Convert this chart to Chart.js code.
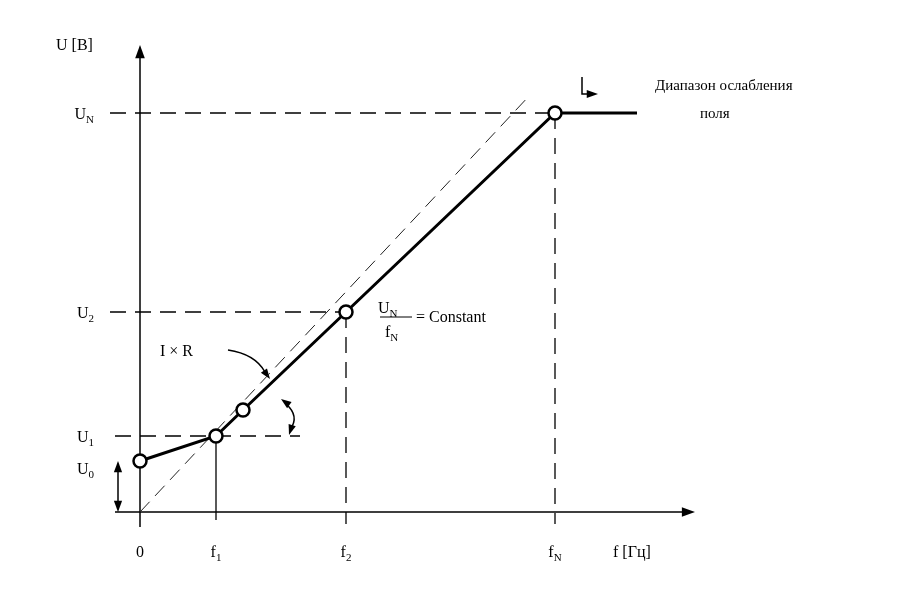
<!DOCTYPE html>
<html><head><meta charset="utf-8">
<script src="https://cdn.jsdelivr.net/npm/chart.js@4"></script>
<style>html,body{margin:0;background:#fff}#c{display:block}</style>
</head><body>
<canvas id="c" width="897" height="604"></canvas>
<script>
// characteristic points (f, U)
const freq = [0, 76, 103, 206, 415, 497];
const volt = [51, 76, 102, 200, 399, 399];
const markers = [true, true, true, true, true, false];
// I x R reference (dashed diagonal)
const diagF = [0, 390];
const diagU = [0, 417];
// tick labels [main, subscript, value]
const xTicks = [['0', '', 0], ['f', '1', 76], ['f', '2', 206], ['f', 'N', 415]];
const yTicks = [['U', '0', 51], ['U', '1', 76], ['U', '2', 200], ['U', 'N', 399]];

const F = '"Liberation Serif", "DejaVu Serif", serif';

function sub(ctx, x, y, main, s, align) {
  ctx.font = '16px ' + F;
  const w1 = ctx.measureText(main).width;
  ctx.font = '11px ' + F;
  const w2 = ctx.measureText(s).width;
  let x0 = align === 'right' ? x - w1 - w2 : align === 'center' ? x - (w1 + w2) / 2 : x;
  ctx.textAlign = 'left';
  ctx.textBaseline = 'alphabetic';
  ctx.font = '16px ' + F;
  ctx.fillText(main, x0, y);
  ctx.font = '11px ' + F;
  ctx.fillText(s, x0 + w1, y + 4);
}

function arrowHead(ctx, x, y, ang, len) {
  ctx.beginPath();
  ctx.moveTo(x, y);
  ctx.lineTo(x - len * Math.cos(ang - 0.35), y - len * Math.sin(ang - 0.35));
  ctx.lineTo(x - len * Math.cos(ang + 0.35), y - len * Math.sin(ang + 0.35));
  ctx.closePath();
  ctx.fill();
}

const deco = {
  id: 'deco',
  beforeDatasetsDraw(chart) {
    const ctx = chart.ctx, xs = chart.scales.x, ys = chart.scales.y;
    const X = v => xs.getPixelForValue(v), Y = v => ys.getPixelForValue(v);
    ctx.save();
    ctx.strokeStyle = '#000'; ctx.fillStyle = '#000';
    // axes
    ctx.lineWidth = 1.5;
    ctx.beginPath();
    ctx.moveTo(X(-25), Y(0)); ctx.lineTo(X(552), Y(0));
    ctx.moveTo(X(0), Y(-15)); ctx.lineTo(X(0), Y(462));
    ctx.stroke();
    arrowHead(ctx, X(555), Y(0), 0, 14);
    arrowHead(ctx, X(0), Y(467), -Math.PI / 2, 14);
    // guide lines
    ctx.lineWidth = 1.3;
    ctx.setLineDash([16, 9]);
    ctx.beginPath();
    ctx.moveTo(X(-30), Y(399)); ctx.lineTo(X(415), Y(399));
    ctx.moveTo(X(-30), Y(200)); ctx.lineTo(X(206), Y(200));
    ctx.moveTo(X(-25), Y(76)); ctx.lineTo(X(160), Y(76));
    ctx.moveTo(X(415), Y(399)); ctx.lineTo(X(415), Y(-12));
    ctx.moveTo(X(206), Y(200)); ctx.lineTo(X(206), Y(-12));
    ctx.stroke();
    ctx.setLineDash([]);
    ctx.beginPath();
    ctx.moveTo(X(76), Y(76)); ctx.lineTo(X(76), Y(-8));
    ctx.stroke();
    // U0 double arrow
    ctx.lineWidth = 1.5;
    ctx.beginPath();
    ctx.moveTo(X(-22), Y(42)); ctx.lineTo(X(-22), Y(9));
    ctx.stroke();
    arrowHead(ctx, X(-22), Y(51), -Math.PI / 2, 12);
    arrowHead(ctx, X(-22), Y(0), Math.PI / 2, 12);
    // angle arc
    ctx.beginPath();
    ctx.moveTo(X(146), Y(108));
    ctx.quadraticCurveTo(X(160), Y(96), X(150), Y(82));
    ctx.stroke();
    arrowHead(ctx, X(141), Y(113), Math.PI * 1.2, 11);
    arrowHead(ctx, X(149), Y(77), Math.PI * 0.6, 11);
    // I x R arrow
    ctx.beginPath();
    ctx.moveTo(X(88), Y(162));
    ctx.quadraticCurveTo(X(115), Y(158), X(125), Y(140));
    ctx.stroke();
    arrowHead(ctx, X(130), Y(133), Math.PI * 0.3, 11);
    // field weakening marker
    ctx.beginPath();
    ctx.moveTo(X(442), Y(435)); ctx.lineTo(X(442), Y(418)); ctx.lineTo(X(450), Y(418));
    ctx.stroke();
    arrowHead(ctx, X(458), Y(418), 0, 12);
    // tick labels
    ctx.fillStyle = '#000';
    xTicks.forEach(t => sub(ctx, X(t[2]), Y(0) + 45, t[0], t[1], 'center'));
    yTicks.forEach(t => sub(ctx, X(0) - 46, Y(t[2]) + (t[1] === '0' ? 13 : 6), t[0], t[1], 'right'));
    ctx.font = '16px ' + F;
    ctx.textAlign = 'left';
    ctx.fillText('U [В]', X(0) - 84, Y(467) + 5);
    ctx.fillText('f [Гц]', X(473), Y(0) + 45);
    ctx.fillText('I × R', X(20), Y(161) + 5);
    ctx.font = '15px ' + F;
    ctx.fillText('Диапазон ослабления', X(515), Y(422));
    ctx.fillText('поля', X(560), Y(394));
    // UN/fN = Constant
    sub(ctx, X(238), Y(200) + 1, 'U', 'N', 'left');
    ctx.lineWidth = 1;
    ctx.beginPath(); ctx.moveTo(X(240), Y(195)); ctx.lineTo(X(272), Y(195)); ctx.stroke();
    sub(ctx, X(245), Y(195) + 20, 'f', 'N', 'left');
    ctx.font = '16px ' + F;
    ctx.fillText('= Constant', X(276), Y(195) + 5);
    ctx.restore();
  }
};

new Chart(document.getElementById('c'), {
  type: 'scatter',
  data: {
    datasets: [
      {
        data: freq.map((f, i) => ({ x: f, y: volt[i] })),
        showLine: true, borderColor: '#000', borderWidth: 3,
        pointRadius: markers.map(m => m ? 6.5 : 0),
        pointBackgroundColor: '#fff', pointBorderColor: '#000', pointBorderWidth: 2.5
      },
      {
        data: diagF.map((f, i) => ({ x: f, y: diagU[i] })),
        showLine: true, borderColor: '#222', borderWidth: 1, borderDash: [14, 8], pointRadius: 0
      }
    ]
  },
  options: {
    responsive: false, animation: false,
    layout: { padding: { left: 100, right: 197, top: 40, bottom: 64 } },
    plugins: { legend: { display: false }, tooltip: { enabled: false } },
    scales: {
      x: { type: 'linear', min: -40, max: 560, display: false },
      y: { type: 'linear', min: -28, max: 472, display: false }
    }
  },
  plugins: [deco]
});
</script>
</body></html>
